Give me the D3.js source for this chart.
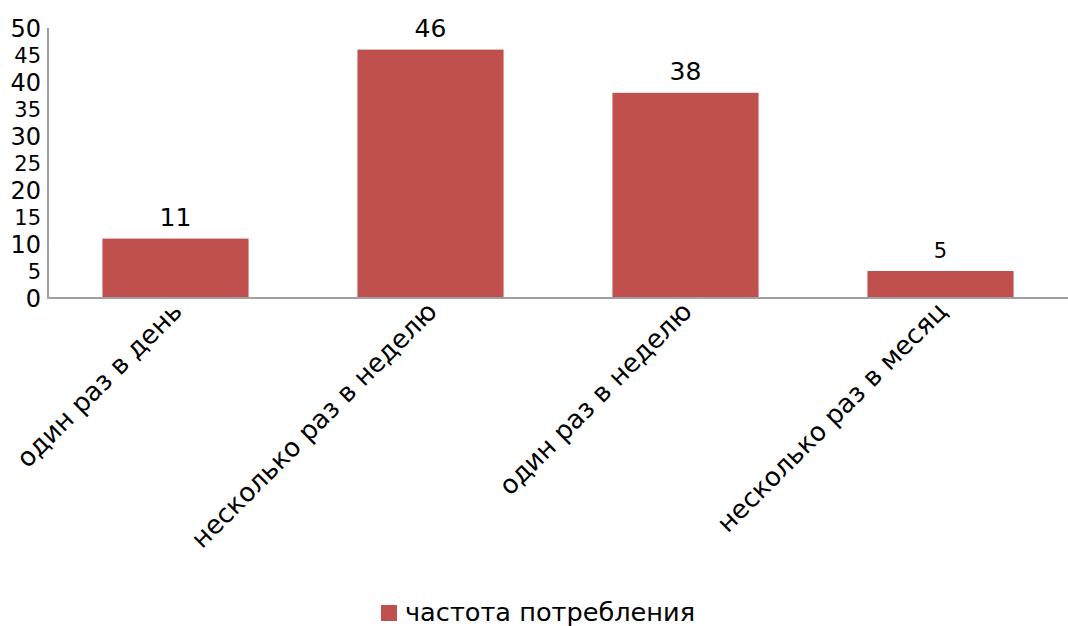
<!DOCTYPE html>
<html><head><meta charset="utf-8">
<script src="https://cdn.jsdelivr.net/npm/d3@7/dist/d3.min.js"></script>
<style>body{margin:0;background:#fff}svg{display:block}text{font-family:"DejaVu Sans",sans-serif;fill:#000}</style>
</head><body><svg id="c" width="1068" height="626"></svg>
<script>
const categories = ["один раз в день","несколько раз в неделю","один раз в неделю","несколько раз в месяц"];
const values = [11,46,38,5];
const yTicks = [0,5,10,15,20,25,30,35,40,45,50];
const seriesName = "частота потребления";
const color = "#c0504d";

const svg = d3.select("#c");
const x = d3.scaleBand().domain(categories).range([48,1068]).paddingInner(0.427).paddingOuter(0.2135);
const y = d3.scaleLinear().domain([0,50]).range([298,28]);

svg.selectAll("rect.bar").data(values).enter().append("rect")
  .attr("x",(d,i)=>x(categories[i])).attr("y",d=>y(d))
  .attr("width",x.bandwidth()).attr("height",d=>y(0)-y(d)).attr("fill",color);

svg.append("line").attr("x1",48).attr("x2",48).attr("y1",y(50)).attr("y2",y(0)).attr("stroke","#a0a0a0").attr("stroke-width",2);
svg.append("line").attr("x1",47).attr("x2",1068).attr("y1",y(0)).attr("y2",y(0)).attr("stroke","#a0a0a0").attr("stroke-width",2);

svg.selectAll("text.yt").data(yTicks).enter().append("text")
  .attr("x",41).attr("y",d=>y(d)).attr("dy","0.36em").attr("text-anchor","end")
  .style("font-size",d=>d%10===0?"24px":"21px").text(d=>d);

svg.selectAll("text.vl").data(values).enter().append("text")
  .attr("x",(d,i)=>x(categories[i])+x.bandwidth()/2).attr("y",d=>y(d)-13)
  .attr("text-anchor","middle").style("font-size",d=>d<10?"21px":"25px").text(d=>d);

svg.selectAll("text.xl").data(categories).enter().append("text")
  .attr("transform",d=>`translate(${x(d)+x.bandwidth()/2+8},${313}) rotate(-45)`)
  .attr("text-anchor","end").style("font-size","26px").text(d=>d);

svg.append("rect").attr("x",381).attr("y",605).attr("width",16).attr("height",16).attr("fill",color);
svg.append("text").attr("x",405).attr("y",621).style("font-size","25.6px").text(seriesName);
</script></body></html>
